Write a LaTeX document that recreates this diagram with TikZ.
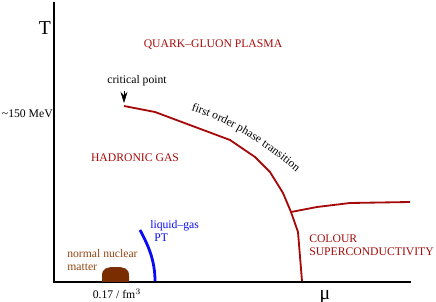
\documentclass[tikz,border=0pt]{standalone}
\usepackage{fontspec}
\setmainfont{Liberation Serif}
\usetikzlibrary{arrows.meta,decorations.text}
\definecolor{qgpred}{RGB}{165,10,10}
\definecolor{nucbrown}{RGB}{145,70,20}
\definecolor{blobbrown}{RGB}{122,46,0}
\definecolor{lgblue}{RGB}{10,10,245}

\begin{document}
\begin{tikzpicture}[x=0.025cm,y=-0.025cm,
  lbl/.style={font=\fontsize{8.3}{9.5}\selectfont,inner sep=0pt},
  region/.style={lbl,qgpred,align=left},
  axis/.style={line width=1.4pt},
  boundary/.style={line width=1.3pt,qgpred,line join=round},
  pointer/.style={-{Stealth[length=8pt,width=5pt]}}]
  \useasboundingbox (0,0) rectangle (436,302);
  % Axes
  \coordinate (ytop) at (54,2);
  \coordinate (orig) at (54,282);
  \coordinate (xend) at (411,282);
  \draw[axis] (ytop) -- (orig) -- (xend);
  \node[font=\fontsize{14}{14}\selectfont,inner sep=0pt] (tlab) at (45,28) {T};
  \node[font=\fontsize{14}{14}\selectfont,inner sep=0pt] (mulab) at (325,297) {μ};
  \node[lbl,anchor=east] (tc) at (53,114) {\textasciitilde150 MeV};
  \node[lbl] (n0) at (117,294) {0.17 / fm$^3$};
  % Phase boundaries
  \coordinate (cp) at (124,106);
  \coordinate (tri) at (291,212);
  \draw[boundary] (cp) -- (155,112) -- (230,140) -- (255,157) -- (270,172)
    -- (283,193) -- (tri) -- (298,232) -- (302,281);
  \draw[boundary] (tri) -- (317,207) -- (350,203) -- (410,202);
  \path[decorate,decoration={text along path,text align=center,
      text={|\fontsize{8.3}{9.5}\selectfont|first order phase transition}}]
    (184,108) .. controls (222,120) and (258,138) .. (302,177);
  % Critical point
  \node[lbl] (crit) at (137,81) {critical point};
  \coordinate (cptail) at (124,91);
  \coordinate (cptip) at (124,103);
  \draw[pointer] (cptail) -- (cptip);
  % Liquid-gas transition
  \draw[lgblue,line width=2pt] (140,230) .. controls (148,245) and (155,260) .. (155,281);
  \node[lbl,lgblue,align=left,anchor=west] (lg) at (150,231) {liquid--gas\\\hspace{3pt}PT};
  % Nuclear matter
  \fill[blobbrown] (102,282) -- (102,276) .. controls (102,268) and (107,267) .. (115.5,267)
    .. controls (124,267) and (129,268) .. (129,276) -- (129,282) -- cycle;
  \node[lbl,nucbrown,align=left,anchor=west] (nuc) at (67,260) {normal nuclear\\matter};
  % Phases
  \node[region] (qgp) at (213,45) {QUARK--GLUON PLASMA};
  \node[region] (had) at (135,158) {HADRONIC GAS};
  \node[region,anchor=west] (csc) at (309,245) {COLOUR\\SUPERCONDUCTIVITY};
\end{tikzpicture}
\end{document}
